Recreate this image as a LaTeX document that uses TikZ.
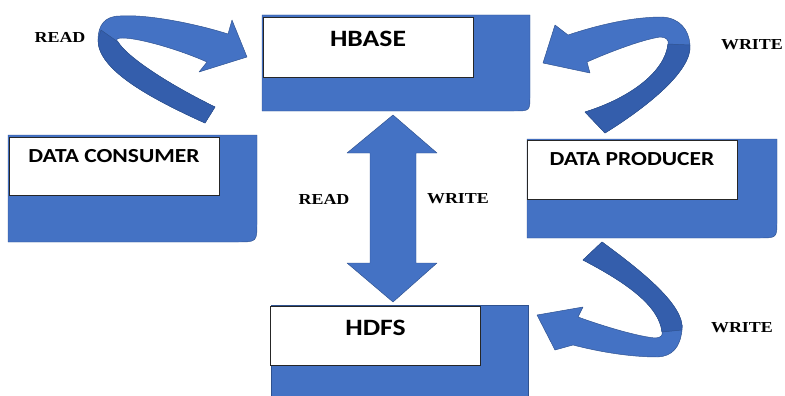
\documentclass[tikz,border=0pt]{standalone}
\usepackage{fontspec}
\usepackage{tikz}
\usetikzlibrary{calc}
\newfontfamily\boxfont[FakeStretch=1.18]{Carlito}
\newfontfamily\labelfont[FakeStretch=1.18]{Liberation Serif}
\definecolor{officeblue}{RGB}{68,114,196}
\definecolor{ribbondark}{RGB}{52,94,172}
\definecolor{edgeblue}{RGB}{47,82,143}
\tikzstyle{backing}=[fill=officeblue, draw=edgeblue, line width=0.4pt]
\tikzstyle{ribbon}=[fill=officeblue, draw=edgeblue, line width=0.4pt, line join=round]
\tikzstyle{ribbonback}=[fill=ribbondark, draw=edgeblue, line width=0.4pt, line join=round]
\tikzstyle{store} =
  [rectangle, draw=black!85, fill=white, line width=0.6pt, inner sep=0pt,
   minimum width=6.3cm, anchor=base,
   font=\boxfont\bfseries\fontsize{20}{24}\selectfont]
\tikzstyle{party} =
  [store, font=\boxfont\bfseries\fontsize{17}{20}\selectfont]
\tikzstyle{oplabel}=[font=\labelfont\bfseries\fontsize{13}{15}\selectfont]

\begin{document}
\begin{tikzpicture}[x=0.03cm, y=-0.03cm]
  \useasboundingbox (0,0) rectangle (785,396);

  % blue backings
  \draw [backing] (262,15) -- (530,15) -- (530,95) .. controls (530,111) .. (514,111) -- (262,111) -- cycle;
  \draw [backing] (8,135) -- (257,135) -- (257,222) .. controls (257,242) .. (237,242) -- (8,242) -- cycle;
  \draw [backing] (527,139) -- (777,139) -- (777,220) .. controls (777,238) .. (759,238) -- (527,238) -- cycle;
  \draw [backing] (271,396) -- (271,305) -- (528,305) -- (528,396);

  \node [store, text height=0.9cm, text depth=0.9cm] (hbase) at (368,47) {HBASE};
  \node [party, text height=0.75cm, text depth=0.99cm] (consumer) at (114,162) {DATA CONSUMER};
  \node [party, text height=0.75cm, text depth=1.02cm] (producer) at (632,165) {DATA PRODUCER};
  \node [store, text height=0.87cm, text depth=0.9cm] (hdfs) at (375.5,335) {HDFS};

  % consumer reads from hbase
  \draw [ribbon] (215,107) -- (205,123) .. controls (150,98) and (98,70) .. (98,40)
    .. controls (98,25) and (105,16) .. (120,16) .. controls (150,14) and (200,25) .. (228,34)
    -- (232,20) -- (247,57) -- (199,72) -- (207,62)
    .. controls (180,50) and (140,38) .. (122,38) .. controls (116,38) and (116,40) .. (118,42)
    .. controls (128,58) and (170,85) .. (215,107) -- cycle;
  \draw [ribbonback] (215,107) -- (205,123) .. controls (150,98) and (98,70) .. (98,40)
    -- (101,30) -- (118,42) .. controls (128,58) and (170,85) .. (215,107) -- cycle;

  % producer writes to hbase
  \draw [ribbon] (585,112) -- (605,133) .. controls (650,105) and (692,70) .. (690,45)
    .. controls (689,30) and (680,18) .. (662,17) .. controls (630,17) and (595,26) .. (568,35)
    -- (555,25) -- (543,63) -- (590,73) -- (587,62)
    .. controls (605,54) and (640,40) .. (660,37) .. controls (666,37) and (669,40) .. (668,44)
    .. controls (665,72) and (630,98) .. (585,112) -- cycle;
  \draw [ribbonback] (585,112) -- (605,133) .. controls (650,105) and (692,70) .. (690,45)
    -- (668,44) .. controls (665,72) and (630,98) .. (585,112) -- cycle;

  % producer writes to hdfs
  \draw [ribbon] (583,260) -- (602,242) .. controls (640,270) and (685,305) .. (682,330)
    .. controls (680,348) and (672,356) .. (658,357) .. controls (630,357) and (600,352) .. (573,345)
    -- (555,350) -- (537,315) -- (583,307) -- (578,317)
    .. controls (600,325) and (635,336) .. (655,338) .. controls (661,338) and (663,335) .. (662,332)
    .. controls (659,305) and (625,282) .. (583,260) -- cycle;
  \draw [ribbonback] (583,260) -- (602,242) .. controls (640,270) and (685,305) .. (682,330)
    -- (662,332) .. controls (659,305) and (625,282) .. (583,260) -- cycle;

  % hbase <-> hdfs
  \draw [ribbon] (393,115) -- (437,153) -- (416,153) -- (416,263) -- (437,263) -- (393,302)
    -- (347,263) -- (370,263) -- (370,153) -- (347,153) -- cycle;

  \node [oplabel] (readtop) at (60,37) {READ};
  \node [oplabel] (writetop) at (752,45) {WRITE};
  \node [oplabel] (readmid) at (324,199) {READ};
  \node [oplabel] (writemid) at (458,199) {WRITE};
  \node [oplabel] (writelow) at (742,328) {WRITE};
\end{tikzpicture}
\end{document}
